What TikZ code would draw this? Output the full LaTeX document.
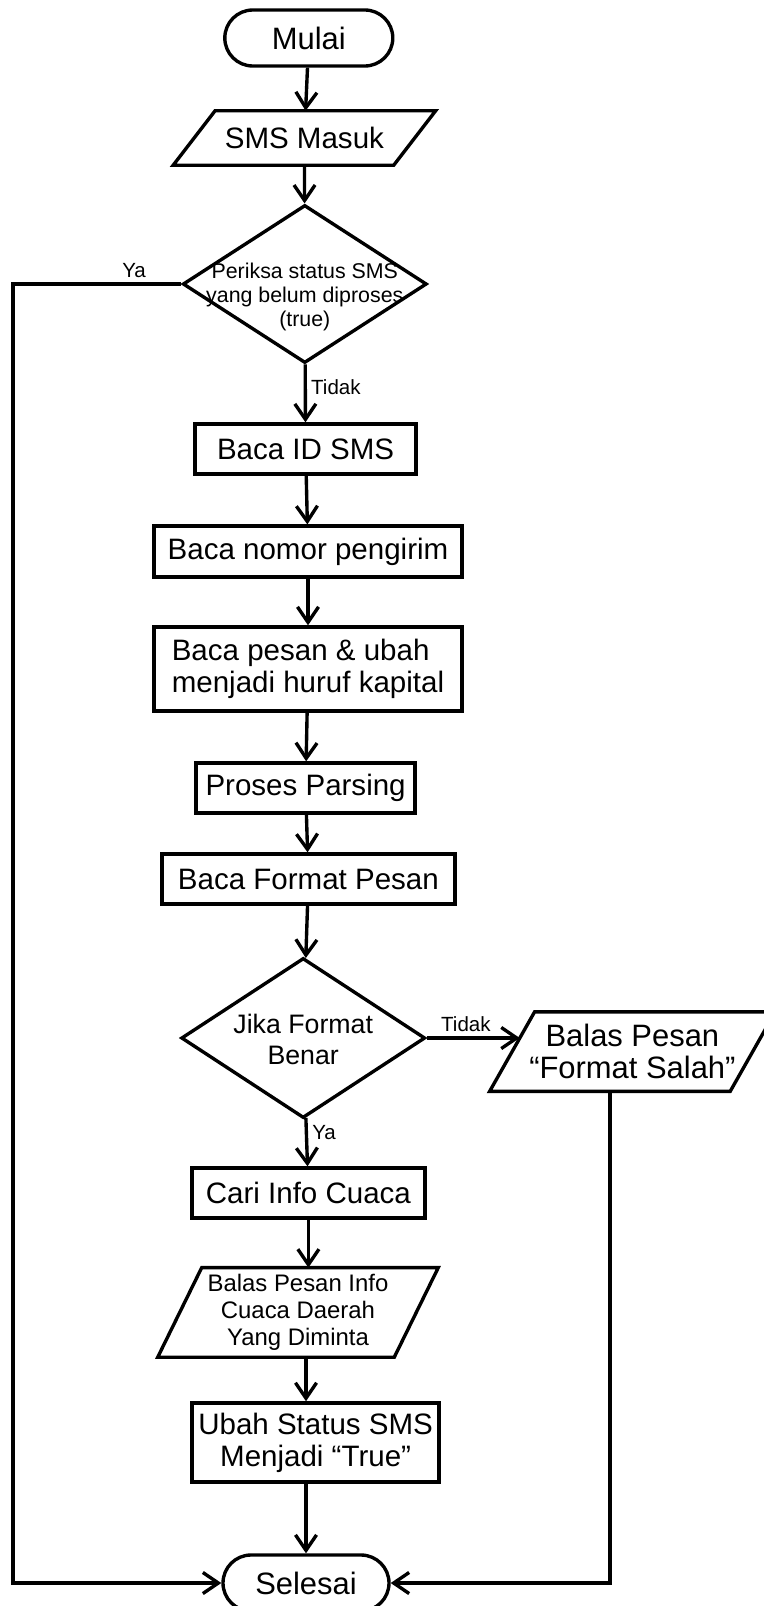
\documentclass[tikz,border=0pt]{standalone}
\usepackage{fontspec}
\setmainfont{Liberation Sans}
\usetikzlibrary{arrows.meta,shapes.geometric,calc}
\newcommand{\dtext}[2][0pt]{\smash{\makebox[0pt]{\raisebox{#1}{\begin{tabular}{@{}c@{}}#2\end{tabular}}}}}
\tikzset{
  term/.style={draw, line width=2.4pt, rectangle, rounded corners=0.7cm, minimum width=4.2cm,
    minimum height=1.4cm, font=\fontsize{22}{24}\selectfont},
  proc/.style={draw, line width=2.4pt, rectangle, minimum height=1.25cm, inner sep=2pt,
    align=center, font=\fontsize{21}{22.8}\selectfont},
  % jajar genjang: #1 = setengah geseran miring
  io/.style={rectangle, inner sep=0pt, align=center, font=\fontsize{21}{22.8}\selectfont,
    append after command={\pgfextra{\draw[line width=2.4pt]
      ($(\tikzlastnode.south west)+(-#1,0)$) -- ($(\tikzlastnode.south east)+(-#1,0)$) --
      ($(\tikzlastnode.north east)+(#1,0)$) -- ($(\tikzlastnode.north west)+(#1,0)$) -- cycle;}}},
  dec/.style={draw, line width=2.4pt, diamond, inner sep=0pt},
  arr/.style={-{Straight Barb[length=11pt,width=15pt]}, line width=2.4pt},
  lbl/.style={font=\fontsize{14.6}{16}\selectfont, inner sep=3pt}
}
\begin{document}
\begin{tikzpicture}[x=1cm,y=1cm]
  \fill[white] (0,0) rectangle (19.075,-40.15);
  \useasboundingbox (0,0) rectangle (19.075,-40.15);

  \node[term] (mulai) at (7.72,-0.95) {Mulai};
  \node[io=0.525, minimum width=5.5cm, minimum height=1.35cm] (masuk) at (7.61,-3.45) {SMS Masuk};
  \node[dec, minimum width=6.1cm, minimum height=3.95cm, font=\fontsize{15.2}{17}\selectfont]
    (cek) at (7.62,-7.1) {\dtext[-13.4pt]{Periksa status SMS\\yang belum diproses\\(true)}};
  \coordinate (pojok) at (0.325,-7.1);

  \node[proc, minimum width=5.525cm] (bacaid) at (7.64,-11.225) {Baca ID SMS};
  \node[proc, minimum width=7.7cm, minimum height=1.275cm] (nomor) at (7.70,-13.79) {Baca nomor pengirim};
  \node[proc, minimum width=7.7cm, minimum height=2.1cm, align=left] (pesan) at (7.70,-16.725)
    {Baca pesan \& ubah\\menjadi huruf kapital};
  \node[proc, minimum width=5.475cm] (parsing) at (7.64,-19.70) {Proses Parsing};
  \node[proc, minimum width=7.325cm] (format) at (7.71,-21.975) {Baca Format Pesan};

  \node[dec, minimum width=6.1cm, minimum height=4cm, font=\fontsize{19}{22}\selectfont]
    (jika) at (7.58,-25.95) {\dtext[-8pt]{Jika Format\\Benar}};
  \node[io=0.5625, minimum width=6cm, minimum height=1.975cm, font=\fontsize{22}{22.8}\selectfont]
    (salah) at (15.81,-26.29) {Balas Pesan\\“Format Salah”};

  \node[proc, minimum width=5.825cm] (cari) at (7.71,-29.825) {Cari Info Cuaca};
  \node[io=0.55, minimum width=5.9cm, minimum height=2.225cm, font=\fontsize{17}{19.2}\selectfont]
    (info) at (7.45,-32.81) {Balas Pesan Info\\Cuaca Daerah\\Yang Diminta};
  \node[proc, minimum width=6.175cm, minimum height=1.975cm] (ubah) at (7.89,-36.06)
    {Ubah Status SMS\\Menjadi “True”};
  \node[term, minimum width=4.15cm] (selesai) at (7.65,-39.575) {Selesai};

  \draw[arr] (mulai) -- (masuk);
  \draw[arr] (masuk) -- (cek);
  \draw[arr] (cek) -- node[lbl, right, pos=0.4]{Tidak} (bacaid);
  \draw[arr] (bacaid) -- (nomor);
  \draw[arr] (nomor) -- (pesan);
  \draw[arr] (pesan) -- (parsing);
  \draw[arr] (parsing) -- (format);
  \draw[arr] (format) -- (jika);
  \draw[arr] (jika.east) -- node[lbl, above, pos=0.42]{Tidak} ($(jika.east -| salah.west)+(0.19,0)$);
  \draw[arr] (jika) -- node[lbl, right, pos=0.3]{Ya} (cari);
  \draw[arr] (cari) -- (cari |- info.north);
  \draw[arr] (info.south -| selesai) -- (ubah.north -| selesai);
  \draw[arr] (ubah.south -| selesai) -- (selesai);
  \draw[arr] (cek.west) -- node[lbl, above, pos=0.28]{Ya} (pojok) |- (selesai.west);
  \draw[arr] ($(salah.south)+(-0.5625,0)$) |- (selesai.east);
\end{tikzpicture}
\end{document}
